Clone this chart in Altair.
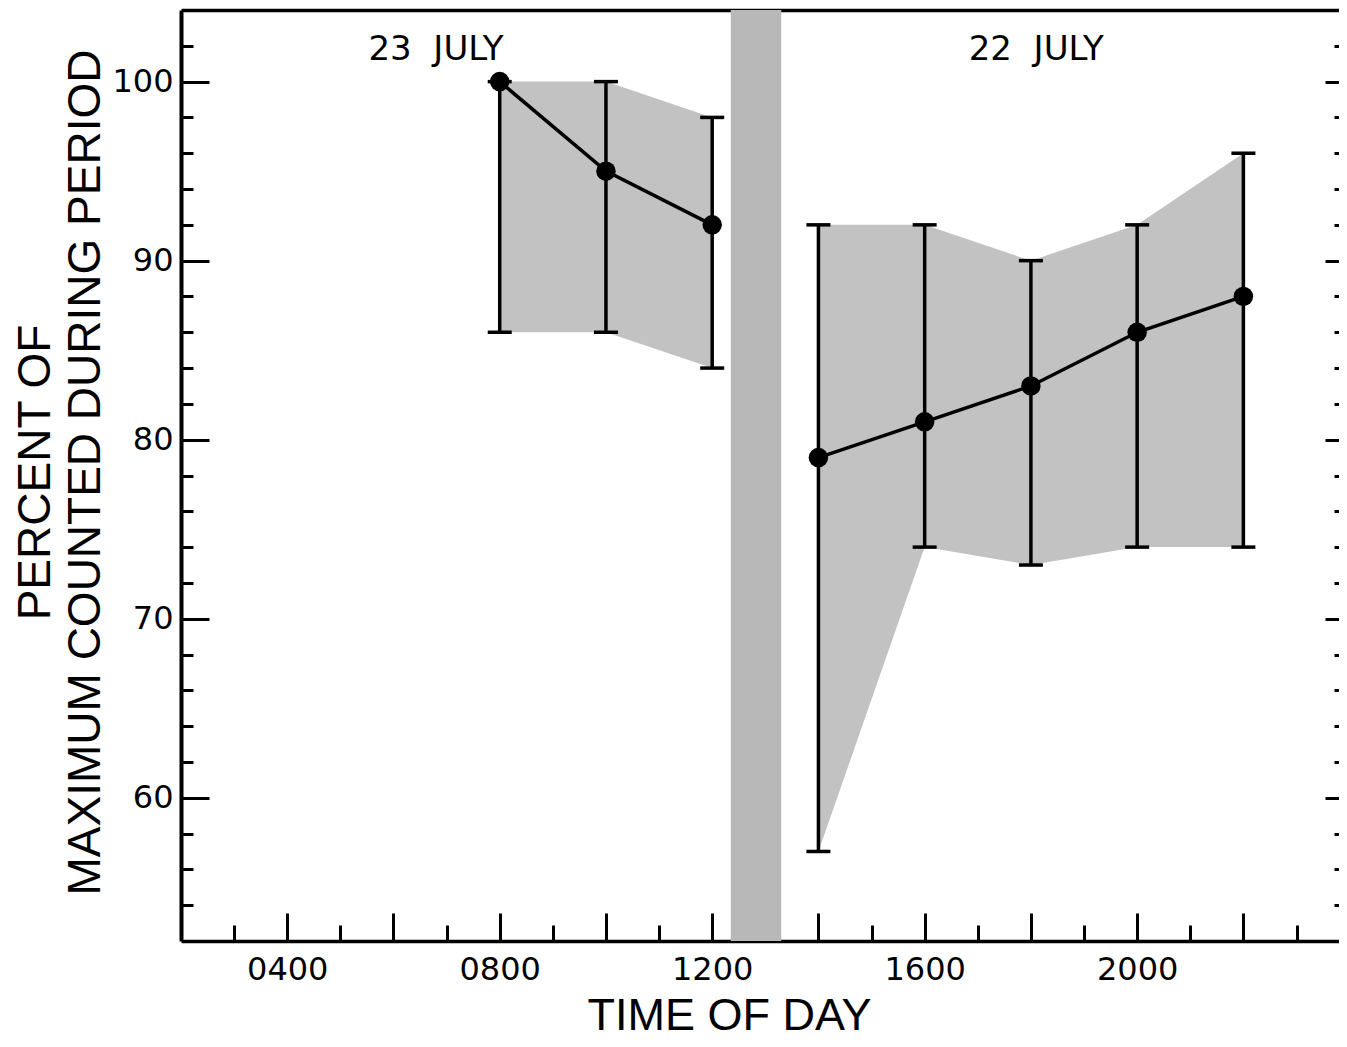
import altair as alt
import pandas as pd

# ---- data ----
period = ["23 JULY", "23 JULY", "23 JULY", "22 JULY", "22 JULY", "22 JULY", "22 JULY", "22 JULY"]
hours = [8, 10, 12, 14, 16, 18, 20, 22]
mean_pct = [100, 95, 92, 79, 81, 83, 86, 88]
low_pct = [86, 86, 84, 57, 74, 73, 74, 74]
high_pct = [100, 100, 98, 92, 92, 90, 92, 96]

band_start = [12.35]
band_end = [13.3]

label_text = ["23\u00a0\u00a0JULY", "22\u00a0\u00a0JULY"]
label_hour = [6.8, 18.1]
label_pct = [101.2, 101.2]

x_tick_hours = list(range(3, 24))
y_tick_values = list(range(54, 104, 2))

X_DOMAIN = [2, 23.8]
Y_DOMAIN = [52, 104]
W = 1158
H = 931

df = pd.DataFrame({"period": period, "hour": hours, "mean": mean_pct,
                   "low": low_pct, "high": high_pct})
band_df = pd.DataFrame({"start": band_start, "end": band_end})
label_df = pd.DataFrame({"text": label_text, "hour": label_hour, "pct": label_pct})

xs = alt.Scale(domain=X_DOMAIN, nice=False, zero=False)
ys = alt.Scale(domain=Y_DOMAIN, nice=False, zero=False)

x_axis = alt.Axis(
    values=x_tick_hours,
    labelExpr="datum.value % 4 === 0 ? ((datum.value < 10 ? '0' : '') + datum.value + '00') : ''",
    tickSize={"expr": "datum.value % 2 === 0 ? -28 : -16"},
    tickWidth=3, tickColor="black",
    domainWidth=3.5, domainColor="black",
    labelFont="DejaVu Sans", labelFontSize=32, labelColor="black",
    labelPadding=41, labelOverlap=False, labelFlush=False,
    grid=False,
    title="TIME OF DAY", titleFont="Liberation Sans", titleFontSize=45,
    titleFontWeight="normal", titleColor="black",
    titleX=548, titleY=88, titleBaseline="alphabetic", titleAlign="center",
)

y_axis = alt.Axis(
    values=y_tick_values,
    labelExpr="datum.value % 10 === 0 ? datum.value : ''",
    tickSize={"expr": "datum.value % 10 === 0 ? -28 : -12"},
    tickWidth=3, tickColor="black",
    domainWidth=4, domainColor="black",
    labelFont="DejaVu Sans", labelFontSize=32, labelColor="black",
    labelPadding=36, labelOverlap=False, labelFlush=False,
    grid=False,
    title=["PERCENT OF", "MAXIMUM COUNTED DURING PERIOD"],
    titleFont="Liberation Sans", titleFontSize=46, titleFontWeight="normal",
    titleColor="black", titleLineHeight=50,
    titleX=-132, titleY=462, titleBaseline="alphabetic", titleAlign="center",
)


def X(field):
    return alt.X(field, scale=xs, axis=x_axis)


def Y(field):
    return alt.Y(field, scale=ys, axis=y_axis)


band = alt.Chart(band_df).mark_rect(color="#b8b8b8").encode(
    x=X("start:Q"), x2="end:Q")

area = alt.Chart(df).mark_area(color="#c2c2c2", opacity=1).encode(
    x=X("hour:Q"), y=Y("low:Q"), y2="high:Q", detail="period:N")

line = alt.Chart(df).mark_line(color="black", strokeWidth=3.5).encode(
    x=X("hour:Q"), y=Y("mean:Q"), detail="period:N")

rules = alt.Chart(df).mark_rule(color="black", strokeWidth=3.5).encode(
    x=X("hour:Q"), y=Y("low:Q"), y2="high:Q")

caps_low = alt.Chart(df).mark_tick(orient="horizontal", color="black", size=24,
                                   thickness=3.5, opacity=1).encode(
    x=X("hour:Q"), y=Y("low:Q"))

caps_high = alt.Chart(df).mark_tick(orient="horizontal", color="black", size=24,
                                    thickness=3.5, opacity=1).encode(
    x=X("hour:Q"), y=Y("high:Q"))

points = alt.Chart(df).mark_circle(color="black", size=380, opacity=1).encode(
    x=X("hour:Q"), y=Y("mean:Q"))

labels = alt.Chart(label_df).mark_text(font="DejaVu Sans", fontSize=34,
                                       baseline="alphabetic", align="center",
                                       color="black").encode(
    x=X("hour:Q"), y=Y("pct:Q"), text="text:N")

main = alt.layer(band, area, line, rules, caps_low, caps_high, points, labels)

# frame: top border and inward ticks on the right-hand side
frame = alt.Chart(df).mark_point(opacity=0).encode(
    x=alt.X("hour:Q", scale=alt.Scale(domain=X_DOMAIN, nice=False, zero=False),
            axis=alt.Axis(orient="top", ticks=False, labels=False, grid=False,
                          domainWidth=3.5, domainColor="black", title="")),
    y=alt.Y("mean:Q", scale=alt.Scale(domain=Y_DOMAIN, nice=False, zero=False),
            axis=alt.Axis(orient="left", offset=-W, values=y_tick_values,
                          labels=False, domain=False, grid=False,
                          tickSize={"expr": "datum.value % 10 === 0 ? 14 : 5"},
                          tickWidth=3, tickColor="black", title="")),
)

chart = alt.layer(main, frame).resolve_scale(x="independent", y="independent").properties(
    width=W, height=H,
    autosize=alt.AutoSizeParams(type="none"),
    padding={"left": 173, "top": 2, "right": 0, "bottom": 98},
    background="white",
).configure_view(strokeWidth=0)

chart.save("out.html", embed_options={"renderer": "svg", "actions": False})
